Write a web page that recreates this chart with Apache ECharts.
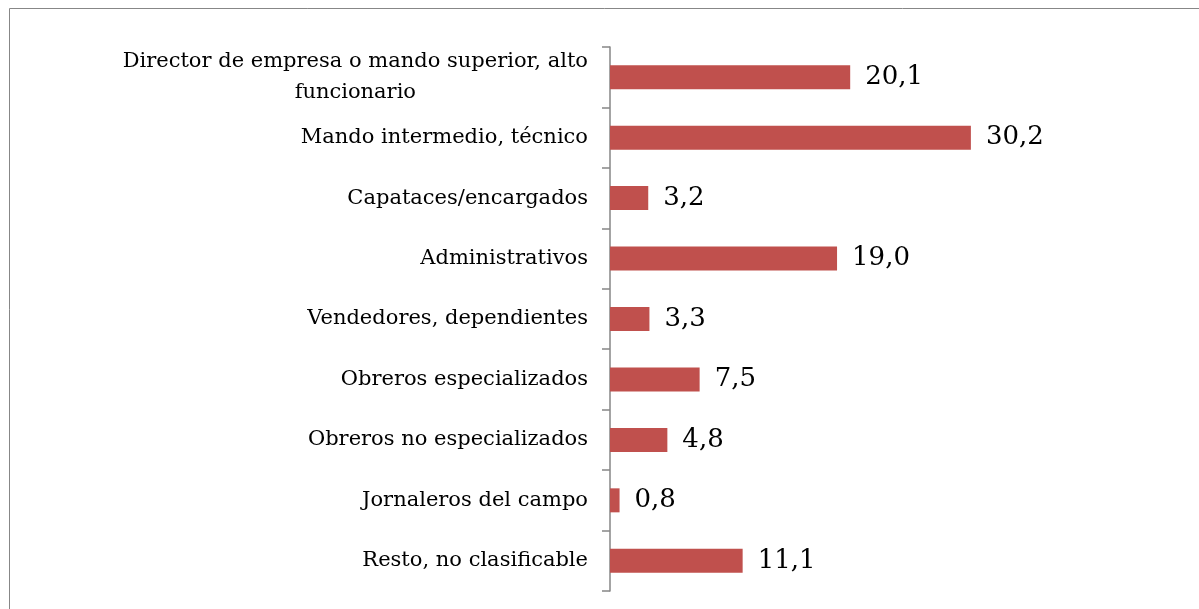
<!DOCTYPE html>
<html>
<head>
    <meta charset="UTF-8">
    <title>Ocupación</title>
    <script src="https://cdn.jsdelivr.net/npm/echarts@6/dist/echarts.min.js"></script>
    <style type="text/css">
        html, body, #main {
            height: 100%;
            width: 100%;
            margin: 0;
            padding: 0;
            background: #fff;
        }
    </style>
</head>
<body>
<div id="main"></div>
<script type="text/javascript">
    var categorias = [
        'Director de empresa o mando superior, alto\nfuncionario',
        'Mando intermedio, técnico',
        'Capataces/encargados',
        'Administrativos',
        'Vendedores, dependientes',
        'Obreros especializados',
        'Obreros no especializados',
        'Jornaleros del campo',
        'Resto, no clasificable'
    ];
    var valores = [20.1, 30.2, 3.2, 19.0, 3.3, 7.5, 4.8, 0.8, 11.1];

    var fuente = '"DejaVu Serif", "Liberation Serif", serif';
    var mychart = echarts.init(document.getElementById('main'));
    var option = {
        animation: false,
        graphic: [{
            type: 'rect',
            shape: {x: 9.5, y: 8.5, width: 1300, height: 700},
            style: {fill: 'none', stroke: '#878787', lineWidth: 1}
        }],
        grid: {left: 610, top: 47, height: 544, width: 478},
        xAxis: {
            type: 'value',
            min: 0,
            max: 40,
            show: false
        },
        yAxis: {
            type: 'category',
            inverse: true,
            data: categorias,
            axisLine: {show: true, lineStyle: {color: '#868686', width: 1.5}},
            axisTick: {show: true, length: 8, lineStyle: {color: '#868686', width: 1.5}},
            axisLabel: {
                margin: 22,
                color: '#000',
                fontFamily: fuente,
                fontSize: 21,
                // lineas centradas entre si, bloque alineado a la derecha
                formatter: function (v) {
                    return v.split('\n').map(function (l) { return '{c|' + l + '}'; }).join('\n');
                },
                rich: {
                    c: {align: 'center', fontFamily: fuente, fontSize: 21, lineHeight: 31, color: '#000'}
                }
            }
        },
        series: [{
            type: 'bar',
            data: valores,
            barWidth: 24,
            itemStyle: {color: '#C0504D'},
            label: {
                show: true,
                position: 'right',
                distance: 15,
                color: '#000',
                fontFamily: fuente,
                fontSize: 26,
                formatter: function (p) {
                    return p.value.toFixed(1).replace('.', ',');
                }
            }
        }]
    };
    mychart.setOption(option);
</script>
</body>
</html>
